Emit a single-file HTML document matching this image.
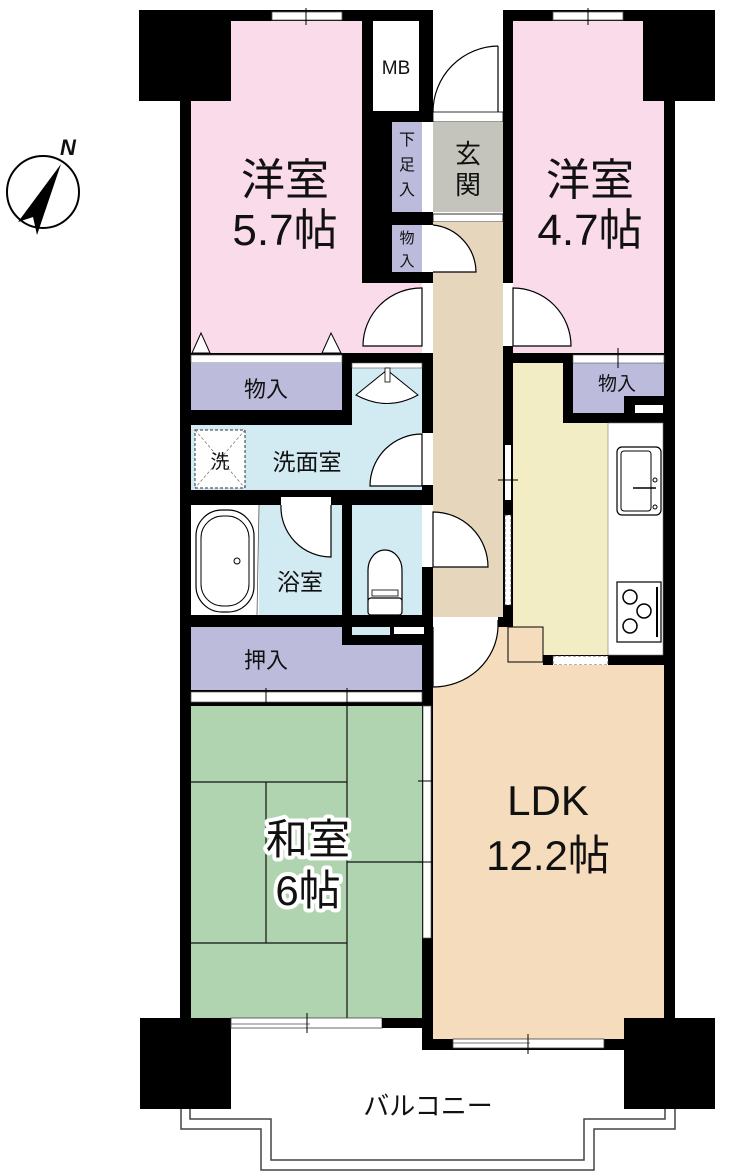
<!DOCTYPE html>
<html><head><meta charset="utf-8"><style>
html,body{margin:0;padding:0;background:#fff;}
svg{display:block;}
text{font-family:"Liberation Sans","Noto Sans CJK JP",sans-serif;fill:#111;}
</style></head><body>
<svg width="738" height="1176" viewBox="0 0 738 1176" xmlns="http://www.w3.org/2000/svg">
<circle cx="43" cy="192" r="36" fill="none" stroke="#000" stroke-width="2"/>
<polygon points="61,164 18,222 33,217 37,235" fill="#000"/>
<text x="60" y="155" font-size="22" font-style="italic" font-weight="bold">N</text>

<polyline points="181,1109 181,1129 261,1129 261,1170 594,1170 594,1129 675,1129 675,1109" fill="none" stroke="#444" stroke-width="1.5"/>
<polyline points="190,1109 190,1119 271,1119 271,1160 584,1160 584,1119 665,1119 665,1109" fill="none" stroke="#444" stroke-width="1.5"/>

<rect x="180" y="10" width="253" height="1018" fill="#000"/>
<rect x="422" y="600" width="253" height="450" fill="#000"/>
<rect x="503" y="10" width="172" height="660" fill="#000"/>
<rect x="380" y="100" width="53" height="520" fill="#000"/>

<rect x="191" y="21" width="171" height="332" fill="#f9dbe9"/>
<rect x="362" y="283" width="60" height="70" fill="#f9dbe9"/>
<rect x="373" y="21" width="46" height="90" fill="#fff"/>
<text x="396" y="74" font-size="19" text-anchor="middle">MB</text>
<rect x="433" y="10" width="70" height="104" fill="#fff"/>
<path d="M498,46 A66,66 0 0 0 433,112" fill="none" stroke="#000" stroke-width="1.2"/>
<line x1="498" y1="46" x2="498" y2="112" stroke="#000" stroke-width="1.2"/>
<rect x="433" y="112" width="70" height="10" fill="#fff" stroke="#000" stroke-width="0.8"/>
<rect x="392" y="122" width="30" height="90" fill="#bdbbdc"/>
<rect x="392" y="225" width="30" height="47" fill="#bdbbdc"/>
<rect x="422" y="122" width="11" height="90" fill="#fff"/>
<text x="407" y="145" font-size="16" text-anchor="middle">下</text>
<text x="407" y="170" font-size="16" text-anchor="middle">足</text>
<text x="407" y="195" font-size="16" text-anchor="middle">入</text>
<text x="407" y="243" font-size="15" text-anchor="middle">物</text>
<text x="407" y="266" font-size="15" text-anchor="middle">入</text>
<rect x="433" y="122" width="70" height="90" fill="#c4c4bd"/>
<rect x="433" y="214" width="70" height="8" fill="#fff" stroke="#000" stroke-width="0.8"/>
<text x="468" y="163" font-size="26" text-anchor="middle">玄</text>
<text x="468" y="194" font-size="26" text-anchor="middle">関</text>
<rect x="433" y="222" width="70" height="395" fill="#e6d7bc"/>
<rect x="422" y="225" width="11" height="47" fill="#fff"/>
<path d="M433,225 A48,48 0 0 1 476,272 L433,272" fill="#fff" stroke="#000" stroke-width="1.2"/>
<rect x="422" y="283" width="11" height="70" fill="#fff"/>
<path d="M422,288 A58,58 0 0 0 363,346 L422,346 Z" fill="#fff" stroke="#000" stroke-width="1.2"/>

<rect x="513" y="21" width="130" height="332" fill="#f9dbe9"/>
<rect x="643" y="101" width="21" height="252" fill="#f9dbe9"/>
<rect x="503" y="283" width="10" height="63" fill="#fff"/>
<path d="M513,288 A58,58 0 0 1 571,346 L513,346 Z" fill="#fff" stroke="#000" stroke-width="1.2"/>
<rect x="139" y="10" width="92" height="91" fill="#000"/>
<rect x="643" y="10" width="72" height="91" fill="#000"/>
<rect x="272" y="12" width="70" height="8" fill="#fff" stroke="#555" stroke-width="0.8"/>
<line x1="306" y1="8" x2="306" y2="25" stroke="#000"/>
<rect x="553" y="12" width="70" height="8" fill="#fff" stroke="#555" stroke-width="0.8"/>
<line x1="588" y1="8" x2="588" y2="25" stroke="#000"/>
<text x="285" y="195" font-size="44" text-anchor="middle">洋室</text>
<text x="285" y="245" font-size="44" text-anchor="middle">5.7帖</text>
<text x="590" y="195" font-size="44" text-anchor="middle">洋室</text>
<text x="590" y="245" font-size="44" text-anchor="middle">4.7帖</text>
<polygon points="192,353 201,333 210,353" fill="#fff" stroke="#000" stroke-width="1"/>
<polygon points="322,353 331,333 341,353" fill="#fff" stroke="#000" stroke-width="1"/>

<rect x="191" y="355" width="151" height="8" fill="#fff" stroke="#555" stroke-width="0.7"/>
<rect x="191" y="363" width="151" height="47" fill="#bdbbdc"/>
<text x="266" y="397" font-size="22" text-anchor="middle">物入</text>
<rect x="352" y="363" width="70" height="62" fill="#d2eaf2"/>
<rect x="352" y="363" width="70" height="5" fill="#fff" stroke="#555" stroke-width="0.6"/>
<path d="M356,395 L387,370 L418,395 Q387,412 356,395 Z" fill="#fff" stroke="#000" stroke-width="1"/>
<rect x="385" y="368" width="5" height="14" fill="#fff" stroke="#000" stroke-width="0.8"/>
<rect x="191" y="425" width="231" height="65" fill="#d2eaf2"/>
<rect x="195" y="430" width="50" height="58" fill="#fff" stroke="#333" stroke-width="1" stroke-dasharray="3,2"/>
<line x1="195" y1="430" x2="245" y2="488" stroke="#555" stroke-width="0.6" stroke-dasharray="3,2"/>
<line x1="245" y1="430" x2="195" y2="488" stroke="#555" stroke-width="0.6" stroke-dasharray="3,2"/>
<text x="220" y="468" font-size="19" text-anchor="middle">洗</text>
<text x="307" y="470" font-size="23" text-anchor="middle">洗面室</text>
<rect x="422" y="433" width="11" height="52" fill="#fff"/>
<path d="M422,434 A52,52 0 0 0 370,486 L422,486 Z" fill="#fff" stroke="#000" stroke-width="1.2"/>
<rect x="191" y="505" width="68" height="110" fill="#fff"/>
<rect x="259" y="505" width="83" height="110" fill="#d2eaf2"/>
<rect x="196" y="510" width="58" height="102" rx="26" fill="#fff" stroke="#000" stroke-width="1.2"/>
<rect x="201" y="516" width="48" height="90" rx="22" fill="none" stroke="#000" stroke-width="1"/>
<circle cx="237" cy="561" r="3" fill="none" stroke="#000"/>
<line x1="259" y1="505" x2="257" y2="615" stroke="#555" stroke-width="0.8"/>
<rect x="281" y="497" width="50" height="8" fill="#fff"/>
<path d="M331,505 L331,557 A50,50 0 0 1 281,505" fill="#fff" stroke="#000" stroke-width="1.2"/>
<text x="300" y="590" font-size="23" text-anchor="middle">浴室</text>
<rect x="352" y="505" width="70" height="130" fill="#d2eaf2"/>
<path d="M368,600 L368,570 A17,20 0 0 1 402,570 L402,600 Z" fill="#fff" stroke="#000" stroke-width="1.2"/>
<rect x="368" y="598" width="34" height="17" rx="3" fill="#fff" stroke="#000" stroke-width="1.2"/>
<rect x="372" y="590" width="26" height="6" fill="#fff" stroke="#000" stroke-width="0.8"/>
<rect x="342" y="615" width="10" height="30" fill="#000"/>
<rect x="352" y="615" width="80" height="12" fill="#000"/>
<rect x="390" y="627" width="42" height="9" fill="#000"/>
<rect x="394" y="627" width="30" height="7" fill="#fff"/>
<rect x="422" y="505" width="11" height="62" fill="#fff"/>
<path d="M433,512 A55,55 0 0 1 488,567 L433,567 Z" fill="#fff" stroke="#000" stroke-width="1.2"/>
<rect x="191" y="627" width="151" height="18" fill="#bdbbdc"/>
<rect x="191" y="645" width="231" height="45" fill="#bdbbdc"/>
<text x="266" y="668" font-size="22" text-anchor="middle">押入</text>
<rect x="191" y="692" width="231" height="10" fill="#fff" stroke="#555" stroke-width="0.7"/>
<line x1="266" y1="688" x2="266" y2="708" stroke="#000"/>
<line x1="347" y1="688" x2="347" y2="708" stroke="#000"/>
<rect x="191" y="706" width="231" height="312" fill="#b1d4b0"/>
<g stroke="#111" stroke-width="1.2">
<line x1="347" y1="706" x2="347" y2="1018"/>
<line x1="191" y1="782" x2="347" y2="782"/>
<line x1="266" y1="782" x2="266" y2="943"/>
<line x1="191" y1="943" x2="347" y2="943"/>
<line x1="347" y1="862" x2="422" y2="862"/>
</g>
<rect x="423" y="706" width="8" height="232" fill="#fff" stroke="#555" stroke-width="0.7"/>
<line x1="418" y1="781" x2="437" y2="781" stroke="#000"/>
<line x1="418" y1="862" x2="437" y2="862" stroke="#000"/>
<g stroke="#fff" stroke-width="8" stroke-linejoin="round" fill="#fff">
<text x="308" y="854" font-size="42" text-anchor="middle">和室</text>
<text x="308" y="905" font-size="42" text-anchor="middle">6帖</text>
</g>
<text x="308" y="854" font-size="42" text-anchor="middle">和室</text>
<text x="308" y="905" font-size="42" text-anchor="middle">6帖</text>

<rect x="513" y="363" width="95" height="292" fill="#f2edc4"/>
<rect x="563" y="363" width="10" height="60" fill="#000"/>
<rect x="573" y="363" width="91" height="50" fill="#bdbbdc"/>
<rect x="573" y="355" width="91" height="8" fill="#fff" stroke="#555" stroke-width="0.6"/>
<line x1="618" y1="348" x2="618" y2="368" stroke="#000"/>
<rect x="624" y="396" width="40" height="27" fill="#000"/>
<rect x="635" y="405" width="28" height="9" fill="#fff"/>
<rect x="573" y="413" width="91" height="10" fill="#000"/>
<text x="617" y="390" font-size="19" text-anchor="middle">物入</text>
<rect x="608" y="423" width="55" height="232" fill="#fff" stroke="#777" stroke-width="0.6"/>
<rect x="617" y="447" width="44" height="68" rx="5" fill="#fff" stroke="#000" stroke-width="1.2"/>
<rect x="621" y="451" width="30" height="60" rx="3" fill="none" stroke="#000" stroke-width="1"/>
<line x1="633" y1="488" x2="656" y2="488" stroke="#000" stroke-width="1.5"/>
<circle cx="655" cy="480" r="2" fill="none" stroke="#000"/>
<circle cx="655" cy="507" r="2" fill="none" stroke="#000"/>
<rect x="617" y="582" width="44" height="60" fill="#fff" stroke="#000" stroke-width="1.2"/>
<circle cx="630" cy="597" r="7" fill="none" stroke="#000" stroke-width="1.5"/>
<circle cx="644" cy="611" r="7" fill="none" stroke="#000" stroke-width="1.5"/>
<circle cx="630" cy="626" r="7" fill="none" stroke="#000" stroke-width="1.5"/>
<line x1="657" y1="587" x2="657" y2="637" stroke="#000" stroke-width="2"/>
<rect x="553" y="656" width="55" height="9" fill="#fff" stroke="#333" stroke-width="0.8" stroke-dasharray="3,2"/>
<rect x="505" y="445" width="6" height="55" fill="#fff"/>
<rect x="505" y="515" width="6" height="90" fill="#fff" stroke="#333" stroke-width="0.7" stroke-dasharray="3,2"/>
<line x1="498" y1="480" x2="518" y2="480" stroke="#000"/>

<rect x="433" y="627" width="110" height="412" fill="#f5dcbd"/>
<rect x="543" y="665" width="121" height="374" fill="#f5dcbd"/>
<rect x="508" y="627" width="35" height="35" fill="none" stroke="#000" stroke-width="1"/>
<rect x="433" y="617" width="65" height="10" fill="#fff"/>
<path d="M498,620 L498,627 A65,62 0 0 1 433,687 L433,627" fill="#fff" stroke="#000" stroke-width="1.2"/>
<text x="548" y="815" font-size="42" text-anchor="middle">LDK</text>
<text x="548" y="870" font-size="42" text-anchor="middle">12.2帖</text>

<rect x="140" y="1018" width="91" height="91" fill="#000"/>
<rect x="624" y="1018" width="91" height="91" fill="#000"/>
<rect x="231" y="1018" width="151" height="10" fill="#fff" stroke="#444" stroke-width="0.8"/>
<rect x="382" y="1018" width="51" height="10" fill="#000"/>
<line x1="231" y1="1024" x2="310" y2="1024" stroke="#777"/>
<line x1="307" y1="1013" x2="307" y2="1033" stroke="#000"/>
<rect x="453" y="1039" width="151" height="9" fill="#fff" stroke="#444" stroke-width="0.8"/>
<line x1="453" y1="1043" x2="530" y2="1043" stroke="#777"/>
<line x1="528" y1="1034" x2="528" y2="1054" stroke="#000"/>
<text x="428" y="1115" font-size="26" text-anchor="middle">バルコニー</text>
</svg>
</body></html>
